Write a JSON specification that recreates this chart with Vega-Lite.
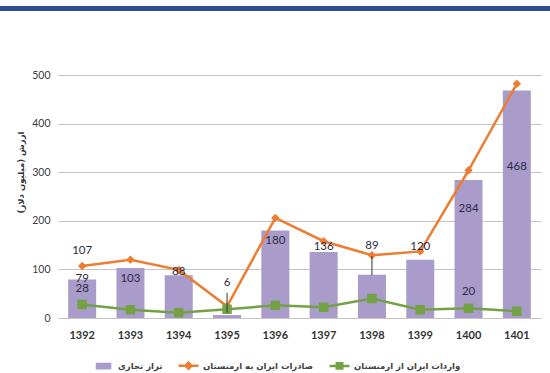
{
  "$schema": "https://vega.github.io/schema/vega-lite/v6.json",
  "width": 483,
  "height": 243,
  "autosize": {"type": "none"},
  "padding": {"left": 58, "top": 75, "right": 9, "bottom": 55},
  "background": "#ffffff",
  "datasets": {
    "main": [
      {"year": "1392", "series": "تراز تجاری", "value": 79},
      {"year": "1393", "series": "تراز تجاری", "value": 103},
      {"year": "1394", "series": "تراز تجاری", "value": 88},
      {"year": "1395", "series": "تراز تجاری", "value": 6},
      {"year": "1396", "series": "تراز تجاری", "value": 180},
      {"year": "1397", "series": "تراز تجاری", "value": 136},
      {"year": "1398", "series": "تراز تجاری", "value": 89},
      {"year": "1399", "series": "تراز تجاری", "value": 120},
      {"year": "1400", "series": "تراز تجاری", "value": 284},
      {"year": "1401", "series": "تراز تجاری", "value": 468},
      {"year": "1392", "series": "صادرات ایران به ارمنستان", "value": 107},
      {"year": "1393", "series": "صادرات ایران به ارمنستان", "value": 120},
      {"year": "1394", "series": "صادرات ایران به ارمنستان", "value": 99},
      {"year": "1395", "series": "صادرات ایران به ارمنستان", "value": 24},
      {"year": "1396", "series": "صادرات ایران به ارمنستان", "value": 206},
      {"year": "1397", "series": "صادرات ایران به ارمنستان", "value": 158},
      {"year": "1398", "series": "صادرات ایران به ارمنستان", "value": 129},
      {"year": "1399", "series": "صادرات ایران به ارمنستان", "value": 137},
      {"year": "1400", "series": "صادرات ایران به ارمنستان", "value": 304},
      {"year": "1401", "series": "صادرات ایران به ارمنستان", "value": 482},
      {"year": "1392", "series": "واردات ایران از ارمنستان", "value": 28},
      {"year": "1393", "series": "واردات ایران از ارمنستان", "value": 17},
      {"year": "1394", "series": "واردات ایران از ارمنستان", "value": 11},
      {"year": "1395", "series": "واردات ایران از ارمنستان", "value": 18},
      {"year": "1396", "series": "واردات ایران از ارمنستان", "value": 26},
      {"year": "1397", "series": "واردات ایران از ارمنستان", "value": 22},
      {"year": "1398", "series": "واردات ایران از ارمنستان", "value": 40},
      {"year": "1399", "series": "واردات ایران از ارمنستان", "value": 17},
      {"year": "1400", "series": "واردات ایران از ارمنستان", "value": 20},
      {"year": "1401", "series": "واردات ایران از ارمنستان", "value": 14}
    ],
    "labels": [
      {"year": "1392", "label": "107", "at": 138},
      {"year": "1392", "label": "79", "at": 81},
      {"year": "1392", "label": "28", "at": 60},
      {"year": "1393", "label": "103", "at": 81},
      {"year": "1394", "label": "88", "at": 95},
      {"year": "1395", "label": "6", "at": 71},
      {"year": "1396", "label": "180", "at": 158},
      {"year": "1397", "label": "136", "at": 147},
      {"year": "1398", "label": "89", "at": 149},
      {"year": "1399", "label": "120", "at": 147},
      {"year": "1400", "label": "284", "at": 225},
      {"year": "1400", "label": "20", "at": 53},
      {"year": "1401", "label": "468", "at": 311}
    ],
    "leaders": [
      {"year": "1395", "from": 11, "to": 52},
      {"year": "1398", "from": 88, "to": 127}
    ]
  },
  "layer": [
    {
      "layer": [
        {
          "data": {"name": "main"},
          "transform": [{"filter": {"field": "series", "equal": "تراز تجاری"}}],
          "mark": {"type": "bar"},
          "encoding": {
            "x": {"field": "year", "type": "ordinal", "title": null,
                  "scale": {"paddingInner": 0.42, "paddingOuter": 0.21},
                  "axis": {"labelAngle": 0, "labelFont": "Lato", "labelFontSize": 11, "labelFontWeight": "bold", "labelColor": "#333333", "ticks": false, "domain": false, "labelPadding": 11}},
            "y": {"field": "value", "type": "quantitative", "scale": {"domain": [0, 500]},
                  "axis": {"values": [0, 100, 200, 300, 400, 500], "title": "ارزش (میلیون دلار)", "titleFont": "DejaVu Sans", "titleFontSize": 8.5, "titleFontWeight": "bold", "titleColor": "#333333", "titleX": -38, "titleY": 97, "titleAngle": -90, "titleAlign": "center", "titleBaseline": "middle", "labelFont": "Lato", "labelFontSize": 10.5, "labelColor": "#404040", "labelPadding": 8, "ticks": false, "domain": false, "gridColor": "#c4c4c4", "gridWidth": 1}},
            "color": {"field": "series", "type": "nominal",
                      "scale": {"domain": ["تراز تجاری", "صادرات ایران به ارمنستان", "واردات ایران از ارمنستان"], "range": ["#a99cca", "#ed7d31", "#72a244"]},
                      "legend": {
                        "title": null, "orient": "none", "legendX": 34, "legendY": 279, "direction": "horizontal",
                        "symbolSize": 400, "labelFont": "DejaVu Sans", "labelFontSize": 8.5, "labelFontWeight": "bold", "labelColor": "#404040",
                        "columnPadding": 10, "labelOffset": 3,
                        "encoding": {"symbols": {
                          "shape": {"value": {"expr": "datum.index === 0 ? 'M-0.65,-0.22H0.65V0.22H-0.65Z' : datum.index === 1 ? 'M-1,0H1M0,-0.3L0.3,0L0,0.3L-0.3,0Z' : 'M-1,0H1M-0.27,-0.27H0.27V0.27H-0.27Z'"}},
                          "stroke": {"value": {"expr": "scale('color', datum.value)"}},
                          "fill": {"value": {"expr": "scale('color', datum.value)"}},
                          "strokeWidth": {"value": 2.5},
                          "opacity": {"value": 1},
                          "fillOpacity": {"value": 1}
                        }}
                      }}
          }
        },
        {
          "data": {"name": "main"},
          "transform": [{"filter": {"field": "series", "oneOf": ["صادرات ایران به ارمنستان", "واردات ایران از ارمنستان"]}}],
          "mark": {"type": "line", "strokeWidth": 2.5},
          "encoding": {
            "x": {"field": "year", "type": "ordinal"},
            "y": {"field": "value", "type": "quantitative", "scale": {"domain": [0, 500]}},
            "color": {"field": "series", "type": "nominal"}
          }
        },
        {
          "data": {"name": "main"},
          "transform": [{"filter": {"field": "series", "equal": "صادرات ایران به ارمنستان"}}],
          "mark": {"type": "point", "shape": "diamond", "filled": true, "size": 70, "opacity": 1},
          "encoding": {
            "x": {"field": "year", "type": "ordinal"},
            "y": {"field": "value", "type": "quantitative", "scale": {"domain": [0, 500]}},
            "color": {"field": "series", "type": "nominal"}
          }
        },
        {
          "data": {"name": "main"},
          "transform": [{"filter": {"field": "series", "equal": "واردات ایران از ارمنستان"}}],
          "mark": {"type": "point", "shape": "square", "filled": true, "size": 90, "opacity": 1},
          "encoding": {
            "x": {"field": "year", "type": "ordinal"},
            "y": {"field": "value", "type": "quantitative", "scale": {"domain": [0, 500]}},
            "color": {"field": "series", "type": "nominal"}
          }
        },
        {
          "data": {"name": "leaders"},
          "mark": {"type": "rule", "color": "#333333", "strokeWidth": 1},
          "encoding": {
            "x": {"field": "year", "type": "ordinal"},
            "y": {"field": "from", "type": "quantitative", "scale": {"domain": [0, 500]}},
            "y2": {"field": "to"}
          }
        },
        {
          "data": {"name": "labels"},
          "mark": {"type": "text", "font": "Lato", "fontSize": 11.5, "color": "#2b2b45", "baseline": "middle", "align": "center"},
          "encoding": {
            "x": {"field": "year", "type": "ordinal"},
            "y": {"field": "at", "type": "quantitative", "scale": {"domain": [0, 500]}},
            "text": {"field": "label"}
          }
        }
      ]
    },
    {
      "data": {"values": [{}]},
      "mark": {"type": "rule", "color": "#2c4d91", "strokeWidth": 5},
      "encoding": {
        "x": {"datum": 0, "type": "quantitative", "scale": {"domain": [0.10545, 0.98364], "nice": false, "zero": false}, "axis": null},
        "x2": {"datum": 1},
        "y": {"datum": 637, "type": "quantitative", "scale": {"domain": [0, 500]}}
      }
    }
  ],
  "resolve": {"scale": {"x": "independent"}},
  "config": {
    "view": {"stroke": null},
    "font": "Lato"
  }
}
